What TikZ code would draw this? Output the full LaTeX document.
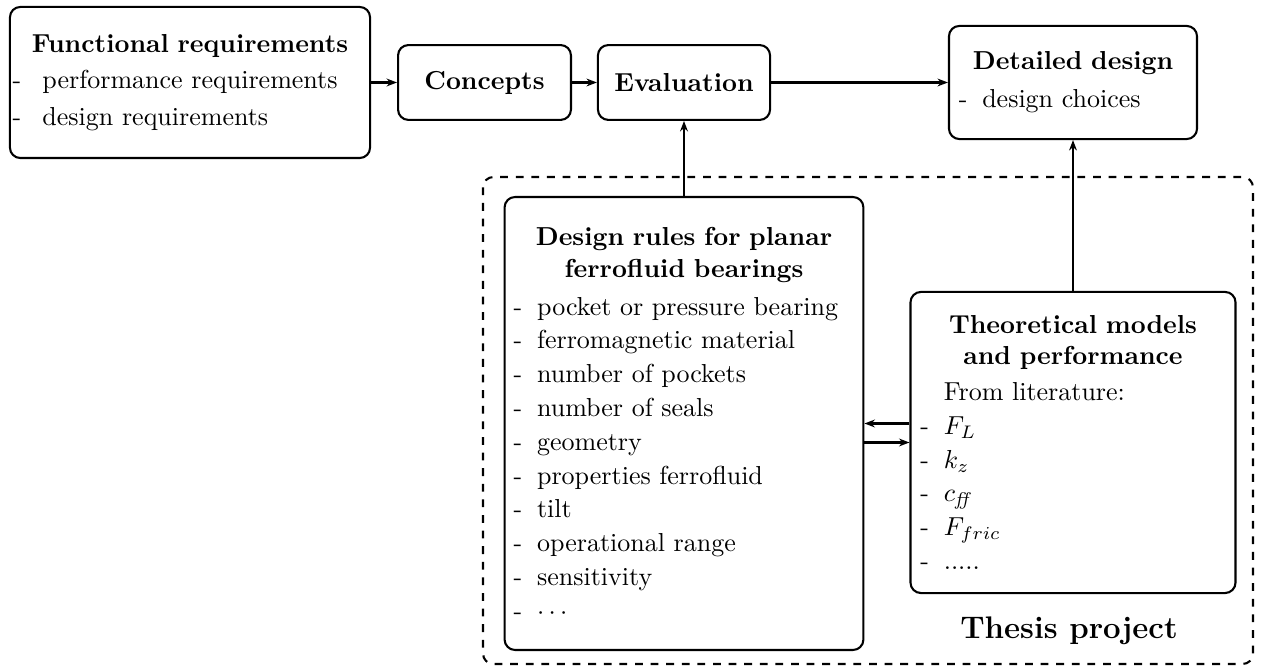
\documentclass[tikz,border=0pt]{standalone}
\usetikzlibrary{arrows.meta}

\newcommand{\li}[2][9pt]{\makebox[#1][l]{-}#2}

\tikzset{
  block/.style={draw, thick, rounded corners, align=left, inner ysep=0pt},
  small block/.style={draw, thick, rounded corners, align=center, font=\bfseries, minimum height=28.8pt},
}

\begin{document}
\begin{tikzpicture}[x=0.3846pt, y=-0.3846pt, thick, >={Stealth[length=4pt,width=3pt]}]
    \useasboundingbox (0,0) rectangle (1262,669);

    % top row
    \node[block, inner xsep=1pt, text width=136.5pt, minimum height=58.1pt] (func) at (190,82.5) {%
        {\centering\bfseries Functional requirements\par}\vspace{2pt}
        \li[11.5pt]{performance requirements}\\[2pt]
        \li[11.5pt]{design requirements}};
    \node[small block, minimum width=66.5pt] (concepts) at (484.5,82.5) {Concepts};
    \node[small block, minimum width=66.2pt] (eval) at (684,82.5) {Evaluation};
    \node[block, inner xsep=3.8pt, text width=87.8pt, minimum height=43.5pt] (detailed) at (1073,82.5) {%
        {\centering\bfseries Detailed design\par}\vspace{2.6pt}
        \li{design choices}};

    % thesis project
    \draw[dashed, rounded corners] (483,177) rectangle (1253,664);
    \node[font=\large\bfseries] (thesis) at (1069,631) {Thesis project};

    \node[block, inner xsep=3.5pt, text width=131pt, minimum height=174.2pt] (rules) at (684,423.5) {%
        {\centering\bfseries Design rules for planar\\ ferrofluid bearings\par}\vspace{2.6pt}
        \li{pocket or pressure bearing}\\[1pt]
        \li{ferromagnetic material}\\[1pt]
        \li{number of pockets}\\[1pt]
        \li{number of seals}\\[1pt]
        \li{geometry}\\[1pt]
        \li{properties ferrofluid}\\[1pt]
        \li{tilt}\\[1pt]
        \li{operational range}\\[1pt]
        \li{sensitivity}\\[1pt]
        \li{$\cdots$}};
    \node[block, inner xsep=3.8pt, text width=117.4pt, minimum height=115.8pt] (theo) at (1073,442.5) {%
        {\centering\bfseries Theoretical models\\ and performance\par}\vspace{1.8pt}
        \hspace*{9pt}From literature:\\[1pt]
        \li{$F_L$}\\[1pt]
        \li{$k_z$}\\[1pt]
        \li{$c_{\mathit{ff}}$}\\[1pt]
        \li{$F_{fric}$}\\[1pt]
        \li{.....}};

    % connectors
    \draw[->] (func) -- (concepts);
    \draw[->] (concepts) -- (eval);
    \draw[->] (eval) -- (detailed);
    \draw[->] (rules) -- (eval);
    \draw[->] (theo) -- (detailed);
    \draw[->] (theo.west |- rules.east) -- (rules.east);
    \draw[->] (rules.east |- theo.west) -- (theo.west);

\end{tikzpicture}
\end{document}
